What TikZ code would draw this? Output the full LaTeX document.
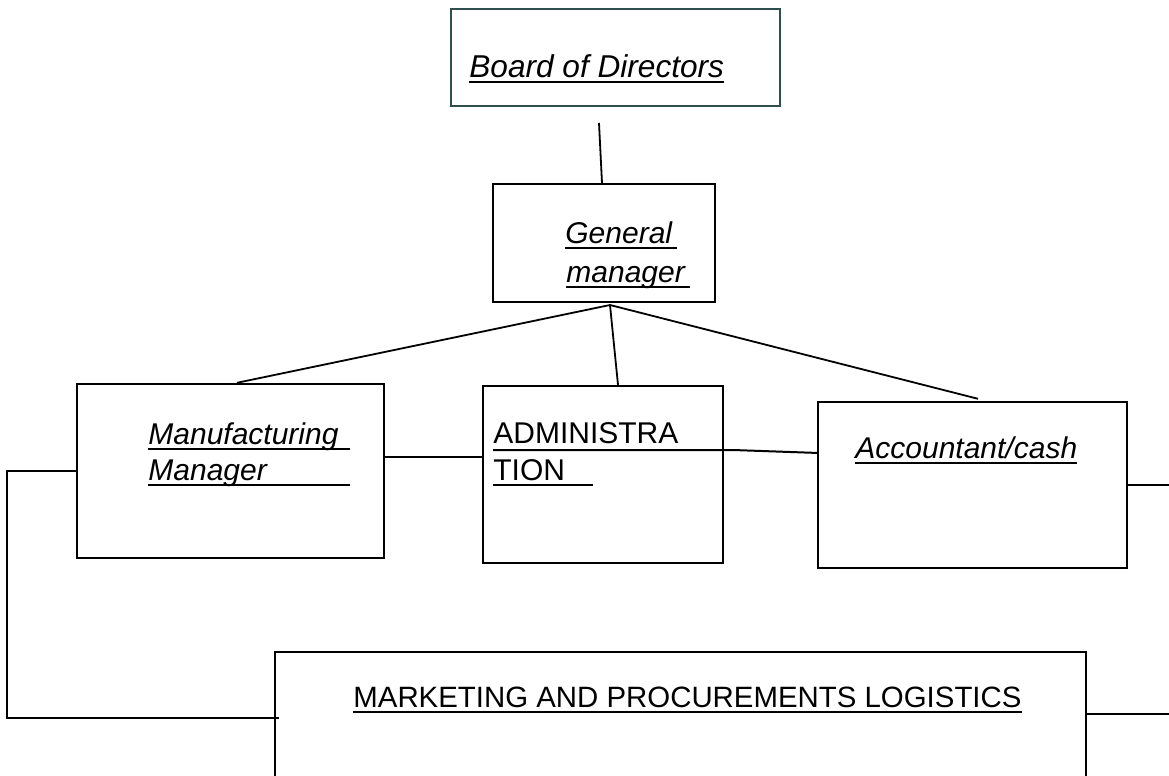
\documentclass[tikz,border=0pt]{standalone}
\usepackage{fontspec}
\setmainfont{Liberation Sans}
\usepackage{tikz}

\definecolor{slateedge}{HTML}{2F4F4F}

% underline at the text's own width, or at a given width
\newcommand\ultext[1]{\setbox0\hbox{#1}\rlap{\rule[-3pt]{\wd0}{1pt}}\box0}
\newcommand\ulwide[2]{\rlap{\rule[-3pt]{#1}{1pt}}#2}

\tikzset{
  post/.style={draw, line width=1.2pt, inner sep=0pt},
  lbl/.style={anchor=base west, inner sep=0pt, font=\fontsize{15pt}{18pt}\selectfont},
  link/.style={line width=0.9pt},
}

\begin{document}
\begin{tikzpicture}[x=0.5pt, y=-0.5pt]
    \clip (0,0) rectangle (1169,776);
    \fill [white] (0,0) rectangle (1169,776);

    % boxes
    \node [post, draw=slateedge, minimum width=164.5pt, minimum height=48.5pt] (board) at (615.5,57.5) {};
    \node [post, minimum width=111pt, minimum height=59pt] (gm) at (604,243) {};
    \node [post, minimum width=153.5pt, minimum height=87pt] (mm) at (230.5,471) {};
    \node [post, minimum width=120pt, minimum height=88.5pt] (adm) at (603,474.5) {};
    \node [post, minimum width=154.5pt, minimum height=83pt] (acc) at (972.5,485) {};
    \node [post, minimum width=405.5pt, minimum height=74pt] (mkt) at (680.5,726) {};

    % texts
    \node [lbl, font=\fontsize{15.8pt}{18pt}\selectfont\itshape] (boardt) at (469,77) {\ultext{Board of Directors}};
    \node [lbl, font=\fontsize{15pt}{18pt}\selectfont\itshape] (gmt1) at (565,243) {\ulwide{56pt}{General}};
    \node [lbl, font=\fontsize{15pt}{18pt}\selectfont\itshape] (gmt2) at (566,282) {\ulwide{62pt}{manager}};
    \node [lbl, font=\fontsize{15pt}{18pt}\selectfont\itshape] (mmt1) at (148,444) {\ulwide{101pt}{Manufacturing}};
    \node [lbl, font=\fontsize{15pt}{18pt}\selectfont\itshape] (mmt2) at (148,480) {\ulwide{101pt}{Manager}};
    \node [lbl] (admt1) at (493,443) {ADMINISTRA};
    \node [lbl] (admt2) at (493,480) {\ulwide{50pt}{TION}};
    \node [lbl, font=\fontsize{15pt}{18pt}\selectfont\itshape] (acct) at (855,458) {\ultext{Accountant/cash}};
    \node [lbl, font=\fontsize{14.7pt}{18pt}\selectfont] (mktt) at (353,707) {\ultext{MARKETING AND PROCUREMENTS LOGISTICS}};

    % connectors
    \coordinate (drop) at (599,123);
    \coordinate (hub) at (610,305);
    \draw [link] (drop) -- ([xshift=-1pt]gm.north);
    \draw [link] (hub) -- ([xshift=3.25pt]mm.north);
    \draw [link] (hub) -- ([xshift=7.5pt]adm.north);
    \draw [link] (hub) -- ([xshift=2.75pt,yshift=1pt]acc.north);
    \draw [link] ([yshift=7pt]mm.east) -- ([yshift=7pt]mm.east -| adm.west);
    \draw [line width=1pt] ([yshift=-3.5pt]admt1.base west) -- ++(120pt,0) -- ([xshift=1pt,yshift=16pt]acc.west);
    \draw [link] (mm.west) -- ++(-34.5pt,0) |- ([xshift=2.5pt,yshift=4pt]mkt.west);
    \draw [link] (acc.east) -- ++(22pt,0);
    \draw [link] ([yshift=6pt]mkt.east) -- ++(42pt,0);
\end{tikzpicture}
\end{document}
